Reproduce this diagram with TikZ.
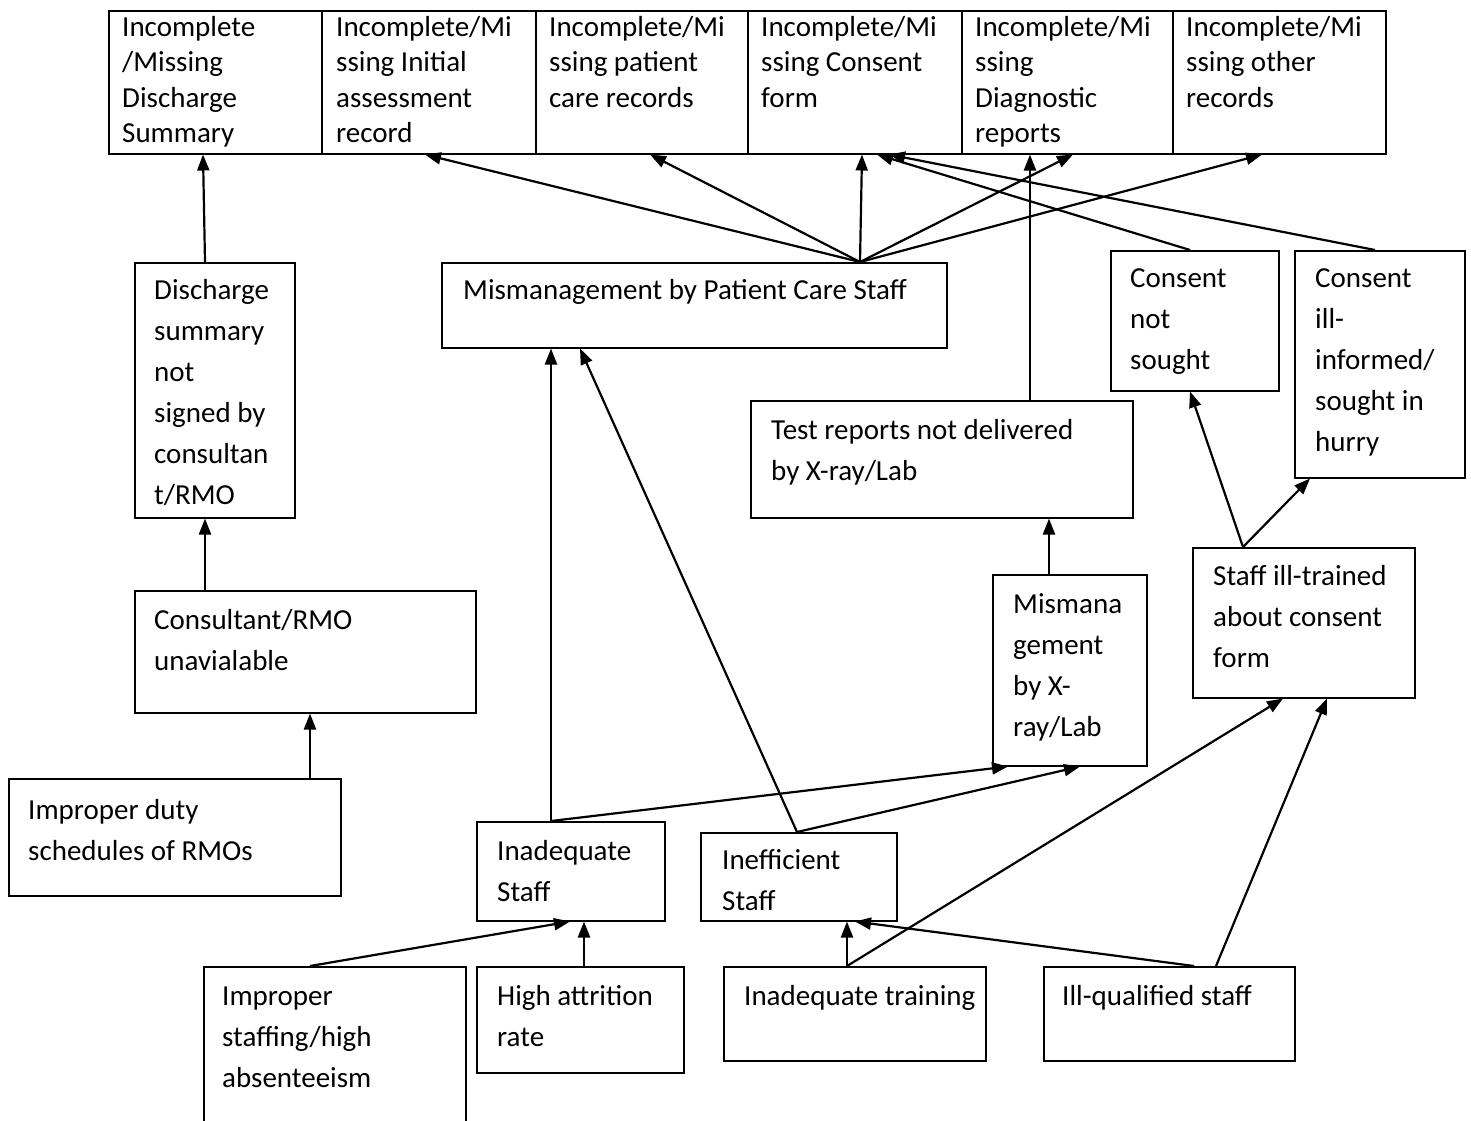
\documentclass[tikz,border=0pt]{standalone}
\usepackage{fontspec}
\setmainfont{Carlito}
\usetikzlibrary{arrows.meta,calc}
\begin{document}
\begin{tikzpicture}[x=1pt,y=-1pt,
  bx/.style={draw, line width=1.5pt, inner sep=0pt, anchor=north west},
  txt/.style={anchor=base west, inner sep=0pt, font=\fontsize{29}{41}\selectfont},
  ttxt/.style={anchor=base west, inner sep=0pt, font=\fontsize{29}{35.5}\selectfont},
  arr/.style={line width=2.2pt, -{Triangle[length=16pt,width=12pt]}}]
\useasboundingbox[fill=white] (0,0) rectangle (1471,1120);
\newcommand{\ml}[1]{\begin{tabular}[t]{@{}l@{}}#1\end{tabular}}
% top row
\node[bx, minimum width=213pt, minimum height=143pt] (t1) at (108,10) {};
\node[bx, minimum width=214pt, minimum height=143pt] (t2) at (321,10) {};
\node[bx, minimum width=212pt, minimum height=143pt] (t3) at (535,10) {};
\node[bx, minimum width=214pt, minimum height=143pt] (t4) at (747,10) {};
\node[bx, minimum width=211pt, minimum height=143pt] (t5) at (961,10) {};
\node[bx, minimum width=213pt, minimum height=143pt] (t6) at (1172,10) {};
\node[ttxt] (t1x) at (122,36) {\ml{Incomplete\\/Missing\\Discharge\\Summary}};
\node[ttxt] (t2x) at (336,36) {\ml{Incomplete/Mi\\ssing Initial\\assessment\\record}};
\node[ttxt] (t3x) at (549,36) {\ml{Incomplete/Mi\\ssing patient\\care records}};
\node[ttxt] (t4x) at (761,36) {\ml{Incomplete/Mi\\ssing Consent\\form}};
\node[ttxt] (t5x) at (975,36) {\ml{Incomplete/Mi\\ssing\\Diagnostic\\reports}};
\node[ttxt] (t6x) at (1186,36) {\ml{Incomplete/Mi\\ssing other\\records}};
% middle boxes
\node[bx, minimum width=160pt, minimum height=255pt] (dis) at (134,262) {};
\node[txt] (disx) at (154,299) {\ml{Discharge\\summary\\not\\signed by\\consultan\\t/RMO}};
\node[bx, minimum width=505pt, minimum height=85pt] (mpc) at (441,262) {};
\node[txt] (mpcx) at (463,299) {Mismanagement by Patient Care Staff};
\node[bx, minimum width=168pt, minimum height=140pt] (cns) at (1110,250) {};
\node[txt] (cnsx) at (1130,287) {\ml{Consent\\not\\sought}};
\node[bx, minimum width=170pt, minimum height=227pt] (cii) at (1294,250) {};
\node[txt] (ciix) at (1315,287) {\ml{Consent\\ill-\\informed/\\sought in\\hurry}};
\node[bx, minimum width=382pt, minimum height=117pt] (trp) at (750,400) {};
\node[txt] (trpx) at (771,439) {\ml{Test reports not delivered\\by X-ray/Lab}};
\node[bx, minimum width=154pt, minimum height=191pt] (mxr) at (992,574) {};
\node[txt] (mxrx) at (1013,613) {\ml{Mismana\\gement\\by X-\\ray/Lab}};
\node[bx, minimum width=222pt, minimum height=150pt] (sit) at (1192,547) {};
\node[txt] (sitx) at (1213,585) {\ml{Staff ill-trained\\about consent\\form}};
\node[bx, minimum width=341pt, minimum height=122pt] (con) at (134,590) {};
\node[txt] (conx) at (154,629) {\ml{Consultant/RMO\\unavialable}};
\node[bx, minimum width=332pt, minimum height=117pt] (ids) at (8,778) {};
\node[txt] (idsx) at (28,819) {\ml{Improper duty\\schedules of RMOs}};
\node[bx, minimum width=188pt, minimum height=99pt] (ias) at (476,821) {};
\node[txt] (iasx) at (497,860) {\ml{Inadequate\\Staff}};
\node[bx, minimum width=196pt, minimum height=88pt] (ies) at (700,832) {};
\node[txt] (iesx) at (722,869) {\ml{Inefficient\\Staff}};
% bottom row
\node[bx, minimum width=262pt, minimum height=160pt] (ish) at (203,966) {};
\node[txt] (ishx) at (222,1005) {\ml{Improper\\staffing/high\\absenteeism}};
\node[bx, minimum width=207pt, minimum height=106pt] (hat) at (476,966) {};
\node[txt] (hatx) at (497,1005) {\ml{High attrition\\rate}};
\node[bx, minimum width=262pt, minimum height=94pt] (itr) at (723,966) {};
\node[txt] (itrx) at (744,1005) {Inadequate training};
\node[bx, minimum width=251pt, minimum height=94pt] (iqs) at (1043,966) {};
\node[txt] (iqsx) at (1062,1005) {Ill-qualified staff};
% connectors
\draw[arr] ($(dis.north west)+(71,0)$) -- ($(t1.south west)+(95,0)$);
\draw[arr] ($(con.north west)+(71,0)$) -- ($(dis.south west)+(71,0)$);
\draw[arr] ($(ids.north west)+(302,0)$) -- ($(con.south west)+(176,0)$);
\draw[arr] ($(mpc.north west)+(419,0)$) -- ($(t2.south west)+(104,0)$);
\draw[arr] ($(mpc.north west)+(419,0)$) -- ($(t3.south west)+(115,0)$);
\draw[arr] ($(mpc.north west)+(419,0)$) -- ($(t4.south west)+(115,0)$);
\draw[arr] ($(mpc.north west)+(419,0)$) -- ($(t5.south west)+(112,0)$);
\draw[arr] ($(mpc.north west)+(419,0)$) -- ($(t6.south west)+(90,0)$);
\draw[arr] ($(cns.north west)+(80,0)$) -- ($(t4.south west)+(130,0)$);
\draw[arr] ($(cii.north west)+(81,0)$) -- ($(t4.south west)+(142,0)$);
\draw[arr] ($(trp.north west)+(280,0)$) -- ($(t5.south west)+(69,0)$);
\draw[arr] ($(mxr.north west)+(57,0)$) -- ($(trp.south west)+(299,0)$);
\draw[arr] ($(sit.north west)+(51,0)$) -- ($(cns.south west)+(80,0)$);
\draw[arr] ($(sit.north west)+(51,0)$) -- ($(cii.south west)+(16,0)$);
\draw[arr] ($(ias.north west)+(75,0)$) -- ($(mpc.south west)+(110,0)$);
\draw[arr] ($(ias.north west)+(75,0)$) -- ($(mxr.south west)+(16,0)$);
\draw[arr] ($(ies.north west)+(97,0)$) -- ($(mpc.south west)+(139,0)$);
\draw[arr] ($(ies.north west)+(97,0)$) -- ($(mxr.south west)+(88,0)$);
\draw[arr] ($(ish.north west)+(107,0)$) -- ($(ias.south west)+(94,0)$);
\draw[arr] ($(hat.north west)+(108,0)$) -- ($(hat.north west |- ias.south)+(108,0)$);
\draw[arr] ($(itr.north west)+(124,0)$) -- ($(ies.south west)+(147,0)$);
\draw[arr] ($(itr.north west)+(124,0)$) -- ($(sit.south west)+(91,0)$);
\draw[arr] ($(iqs.north west)+(151,0)$) -- ($(ies.south west)+(155,0)$);
\draw[arr] ($(iqs.north west)+(173,0)$) -- ($(sit.south west)+(135,0)$);
\end{tikzpicture}
\end{document}
